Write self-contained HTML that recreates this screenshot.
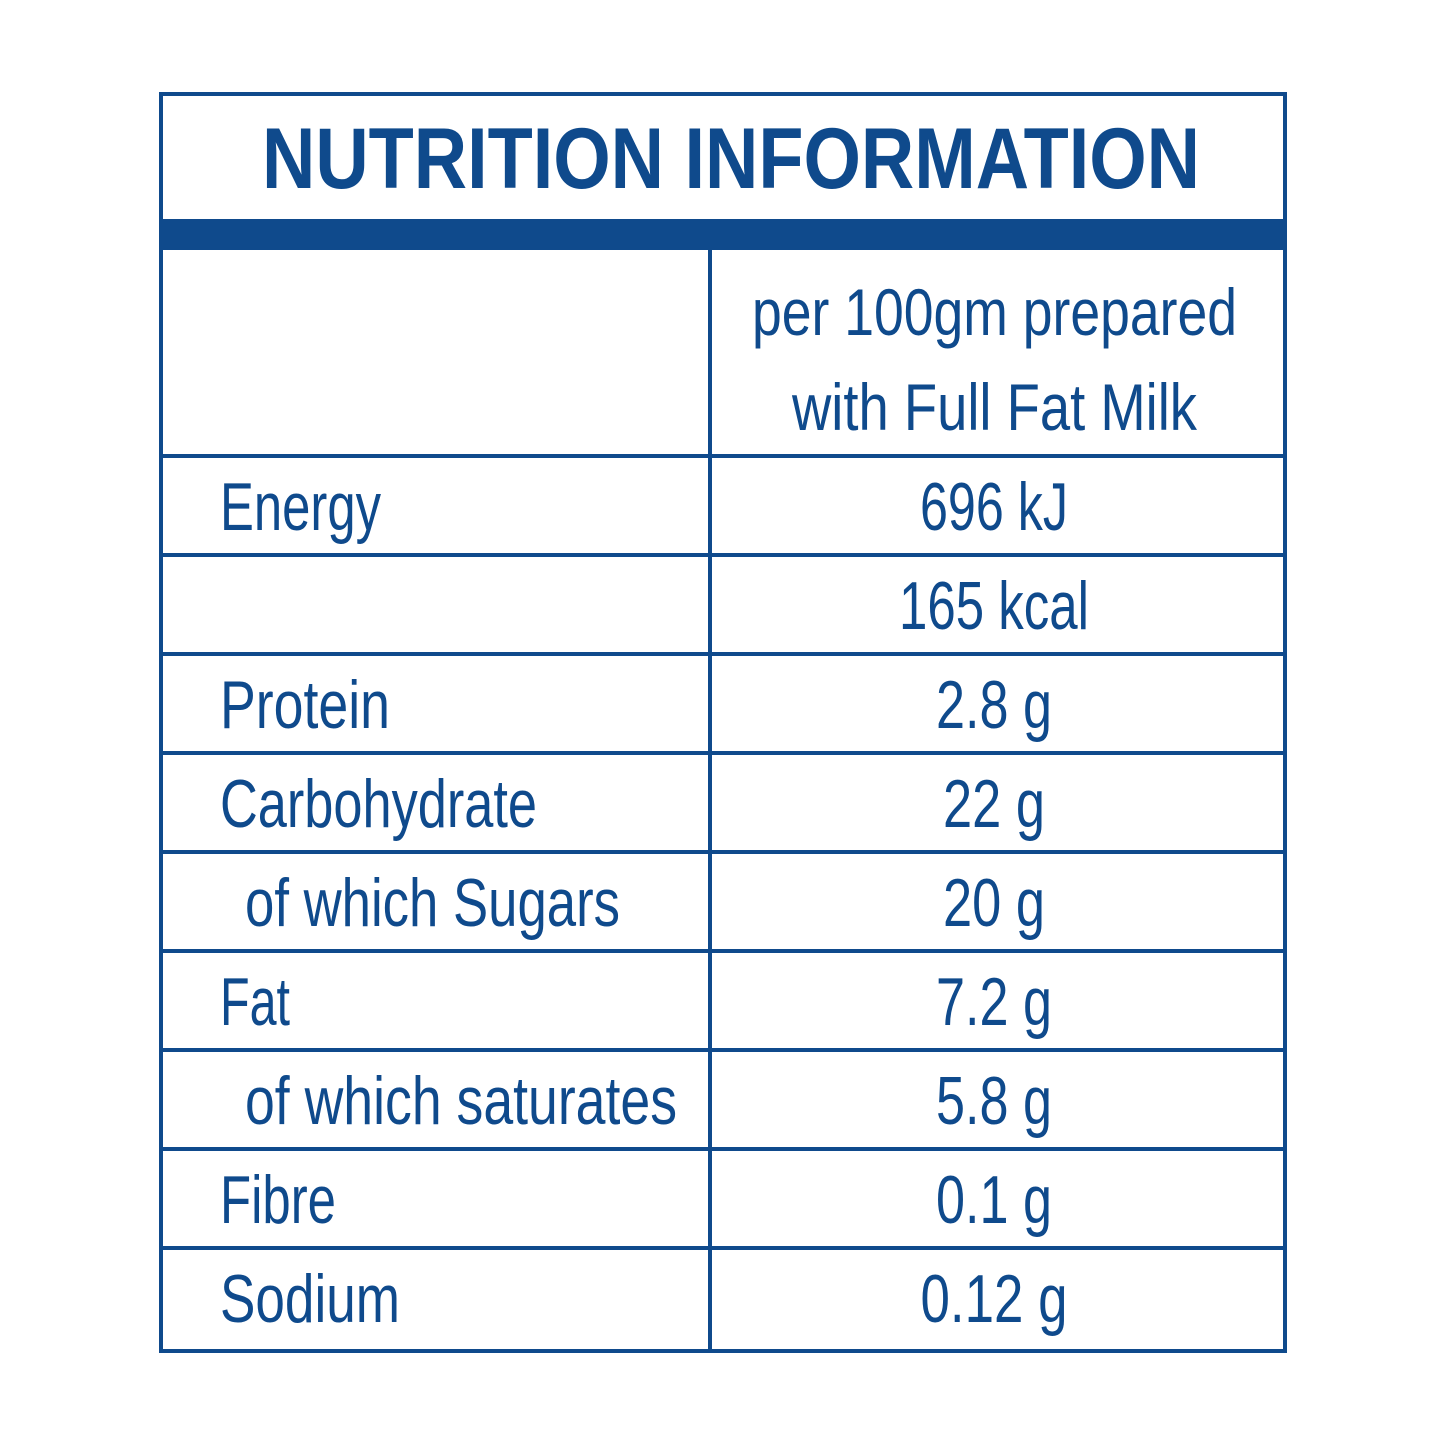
<!DOCTYPE html>
<html><head><meta charset="utf-8"><style>
html,body{margin:0;padding:0;background:#fff;}
svg{display:block;}
text{font-family:"Liberation Sans",sans-serif;fill:#0f4a8c;}
</style></head><body>
<svg id="tbl" width="1445" height="1445" viewBox="0 0 1445 1445" xmlns="http://www.w3.org/2000/svg">
<rect x="0" y="0" width="1445" height="1445" fill="#fff"/>
<rect x="161" y="94" width="1124" height="1257" fill="none" stroke="#0f4a8c" stroke-width="4"/>
<rect x="161" y="219" width="1124" height="31" fill="#0f4a8c"/>
<text x="262" y="188" font-size="86" font-weight="bold" textLength="938" lengthAdjust="spacingAndGlyphs">NUTRITION INFORMATION</text>
<line x1="710" y1="250" x2="710" y2="1351" stroke="#0f4a8c" stroke-width="4"/>
<text x="752" y="335" font-size="66" textLength="485" lengthAdjust="spacingAndGlyphs">per 100gm prepared</text>
<text x="792" y="430" font-size="66" textLength="405" lengthAdjust="spacingAndGlyphs">with Full Fat Milk</text>
<g id="rows"></g>
</svg>
<script>
const labels=["Energy","","Protein","Carbohydrate","  of which Sugars","Fat","  of which saturates","Fibre","Sodium"];
const values=["696 kJ","165 kcal","2.8 g","22 g","20 g","7.2 g","5.8 g","0.1 g","0.12 g"];
const labelW=[161,0,170,317,375,70,432,116,180];
const valueW=[148,190,116,102,102,116,116,116,147];
const NS="http://www.w3.org/2000/svg";
const g=document.getElementById('rows');
const top0=456, rowH=99, valCx=994;
for(let i=0;i<labels.length;i++){
  const y=top0+i*rowH;
  const ln=document.createElementNS(NS,'line');
  
  
  ln.setAttribute('x1',161);ln.setAttribute('x2',1285);
  ln.setAttribute('y1',y);ln.setAttribute('y2',y);
  ln.setAttribute('stroke','#0f4a8c');ln.setAttribute('stroke-width',4);
  g.appendChild(ln);
  const base=y+74;
  const lab=labels[i].trim();
  if(lab){
    const t=document.createElementNS(NS,'text');
    
    
    t.setAttribute('x',labels[i].startsWith('  ')?245:220);
    t.setAttribute('y',base);t.setAttribute('font-size',68);
    t.setAttribute('textLength',labelW[i]);t.setAttribute('lengthAdjust','spacingAndGlyphs');
    t.textContent=lab;g.appendChild(t);
  }
  const v=document.createElementNS(NS,'text');
  
  
  v.setAttribute('x',valCx-valueW[i]/2);
  v.setAttribute('y',base);v.setAttribute('font-size',68);
  v.setAttribute('textLength',valueW[i]);v.setAttribute('lengthAdjust','spacingAndGlyphs');
  v.textContent=values[i];g.appendChild(v);
}
</script>
</body></html>
